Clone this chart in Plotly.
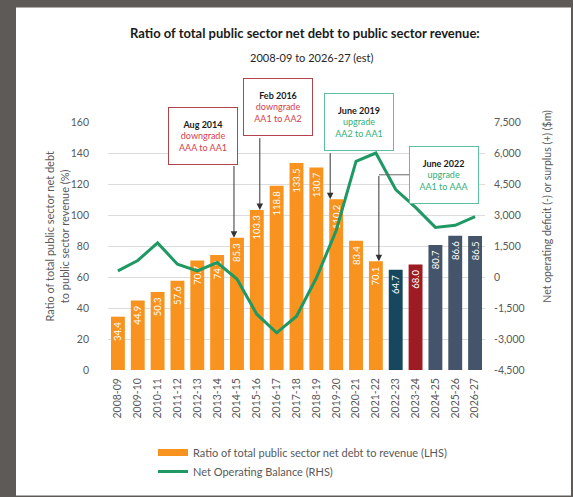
import plotly.graph_objects as go

# ---------------- data ----------------
years = ["2008-09", "2009-10", "2010-11", "2011-12", "2012-13", "2013-14", "2014-15",
         "2015-16", "2016-17", "2017-18", "2018-19", "2019-20", "2020-21", "2021-22",
         "2022-23", "2023-24", "2024-25", "2025-26", "2026-27"]
debt_ratio = [34.4, 44.9, 50.3, 57.6, 70.7, 74.2, 85.3, 103.3, 118.8, 133.5, 130.7,
              110.2, 83.4, 70.1, 64.7, 68.0, 80.7, 86.6, 86.5]
net_operating_balance = [300, 800, 1650, 620, 300, 700, -100, -1800, -2700, -1900, -50,
                         2250, 5600, 6000, 4230, 3370, 2400, 2500, 2920]
bar_colors = ["#F7931E"] * 14 + ["#17475E", "#9E1B23", "#44546A", "#44546A", "#44546A"]

left_ticks = [0, 20, 40, 60, 80, 100, 120, 140, 160]
right_ticks = [-4500, -3000, -1500, 0, 1500, 3000, 4500, 6000, 7500]
right_ticktext = [f"{v:,}" for v in right_ticks]

# rating events: (label, line2, line3, category, kind)
events = [
    ("Aug 2014", "downgrade", "AAA to AA1", "2014-15", "down"),
    ("Feb 2016", "downgrade", "AA1 to AA2", "2015-16", "down"),
    ("June 2019", "upgrade", "AA2 to AA1", "2019-20", "up"),
    ("June 2022", "upgrade", "AA1 to AAA", "2021-22", "up"),
]

# ---------------- layout helpers ----------------
W, H = 573, 497
L, R, T, B = 108, 485, 122, 371  # plot area in pixels


def px(x):
    return (x - L) / (R - L)


def py(y):
    return (B - y) / (B - T)


FONT = "Lato, Open Sans, sans-serif"
GRAY = "#595959"
ORANGE = "#F7931E"
GREEN = "#1F9963"

fig = go.Figure()

fig.add_trace(go.Bar(
    x=years, y=debt_ratio,
    marker=dict(color=bar_colors, line=dict(width=0)),
    text=[f"{v:.1f}\u00a0" for v in debt_ratio],
    textposition="inside", insidetextanchor="end", textangle=-90,
    constraintext="none",
    textfont=dict(color="white", size=9.5, family=FONT),
    showlegend=False, hoverinfo="x+y",
))

fig.add_trace(go.Scatter(
    x=years, y=net_operating_balance, yaxis="y2", mode="lines",
    line=dict(color=GREEN, width=3),
    name="Net Operating Balance (RHS)", showlegend=False,
))

# legend proxies
fig.add_trace(go.Scatter(
    x=[None], y=[None], mode="lines", line=dict(color=ORANGE, width=7),
    name="Ratio of total public sector net debt to revenue (LHS)",
))
fig.add_trace(go.Scatter(
    x=[None], y=[None], mode="lines", line=dict(color=GREEN, width=3),
    name="Net Operating Balance (RHS)",
))

annotations = []
shapes = []

# white panel on gray background
shapes.append(dict(type="rect", xref="paper", yref="paper", layer="below",
                   x0=px(16), x1=px(571), y0=py(497), y1=py(7),
                   fillcolor="white", line=dict(width=0)))


def centred(**kw):
    kw.setdefault("xanchor", "center")
    kw.setdefault("yanchor", "middle")
    kw.setdefault("showarrow", False)
    return kw


# titles
annotations.append(centred(xref="paper", yref="paper", x=px(305), y=py(33),
                           text="<b>Ratio of total public sector net debt to public sector revenue:</b>",
                           font=dict(size=13, color="#1a1a1a", family=FONT)))
annotations.append(centred(xref="paper", yref="paper", x=px(311), y=py(57),
                           text="2008-09 to 2026-27 (est)",
                           font=dict(size=11, color="#262626", family=FONT)))

# axis titles
annotations.append(centred(xref="paper", yref="paper", x=px(57), y=py(237), textangle=-90,
                           text="Ratio of total public sector net debt<br>to public sector revenue (%)",
                           font=dict(size=11, color=GRAY, family=FONT)))
annotations.append(centred(xref="paper", yref="paper", x=px(547), y=py(207), textangle=-90,
                           text="Net operating deficit (-) or surplus (+) ($m)",
                           font=dict(size=10.5, color=GRAY, family=FONT)))

# event boxes (pixel centres) and arrow tails
box_centres = [(202.5, 136), (278, 107), (359, 122.5), (444, 175)]
arrow_tail_y = [165, 137, 152, 175]
arrow_xshift = [-3, 3, -6, 3]
for (lab, l2, l3, cat, kind), (cx, cy), ty, xs in zip(events, box_centres, arrow_tail_y, arrow_xshift):
    col = "#D6404B" if kind == "down" else "#2FB07A"
    bcol = "#B2434C" if kind == "down" else "#5CC19C"
    annotations.append(centred(
        xref="paper", yref="paper", x=px(cx), y=py(cy),
        text=f"<b>{lab}</b><br><span style='color:{col}'>{l2}</span><br><span style='color:{col}'>{l3}</span>",
        align="center", valign="middle",
        width=66, height=54, bgcolor="white", bordercolor=bcol, borderwidth=1, borderpad=1,
        font=dict(size=9, color="#1a1a1a", family=FONT),
    ))
    idx = years.index(cat)
    val = debt_ratio[idx]
    bar_top_px = B - val * (B - T) / 160
    annotations.append(dict(
        xref="x", yref="y", x=cat, y=val, ax=0, ay=ty - bar_top_px, text="",
        showarrow=True, arrowhead=2, arrowsize=1.3, arrowwidth=1, arrowcolor="#333333",
        xshift=xs,
    ))

# elbow connector for June 2022
shapes.append(dict(type="line", xref="paper", yref="paper",
                   x0=px(379), x1=px(409), y0=py(175), y1=py(175),
                   line=dict(color="#666666", width=1)))

fig.update_layout(
    width=W, height=H,
    margin=dict(l=L, r=W - R, t=T, b=H - B),
    paper_bgcolor="#5E5A58", plot_bgcolor="rgba(0,0,0,0)",
    font=dict(family=FONT, color=GRAY),
    bargap=0.3,
    xaxis=dict(type="category", tickangle=-90, tickfont=dict(size=10.5, color=GRAY, family=FONT),
               showgrid=False, showline=False, ticks="", ticklabelstandoff=5),
    yaxis=dict(range=[0, 160], tickvals=left_ticks, showgrid=True, gridcolor="#DCDCDC",
               gridwidth=1, zeroline=False, showline=False, ticks="",
               tickfont=dict(size=10.5, color=GRAY, family=FONT), ticklabelstandoff=18),
    yaxis2=dict(range=[-4500, 7500], overlaying="y", side="right", tickvals=right_ticks,
                ticktext=right_ticktext, showgrid=False, zeroline=False, showline=False,
                ticks="", tickfont=dict(size=10.5, color=GRAY, family=FONT), ticklabelstandoff=8),
    legend=dict(x=px(153), y=py(438), xanchor="left", yanchor="top", orientation="v",
                font=dict(size=11, color=GRAY, family=FONT), bgcolor="rgba(0,0,0,0)",
                tracegroupgap=0, itemwidth=30),
    annotations=annotations,
    shapes=shapes,
)

fig.write_html("out.html", config={"displayModeBar": False},
               post_script="document.body.style.margin='0';")
